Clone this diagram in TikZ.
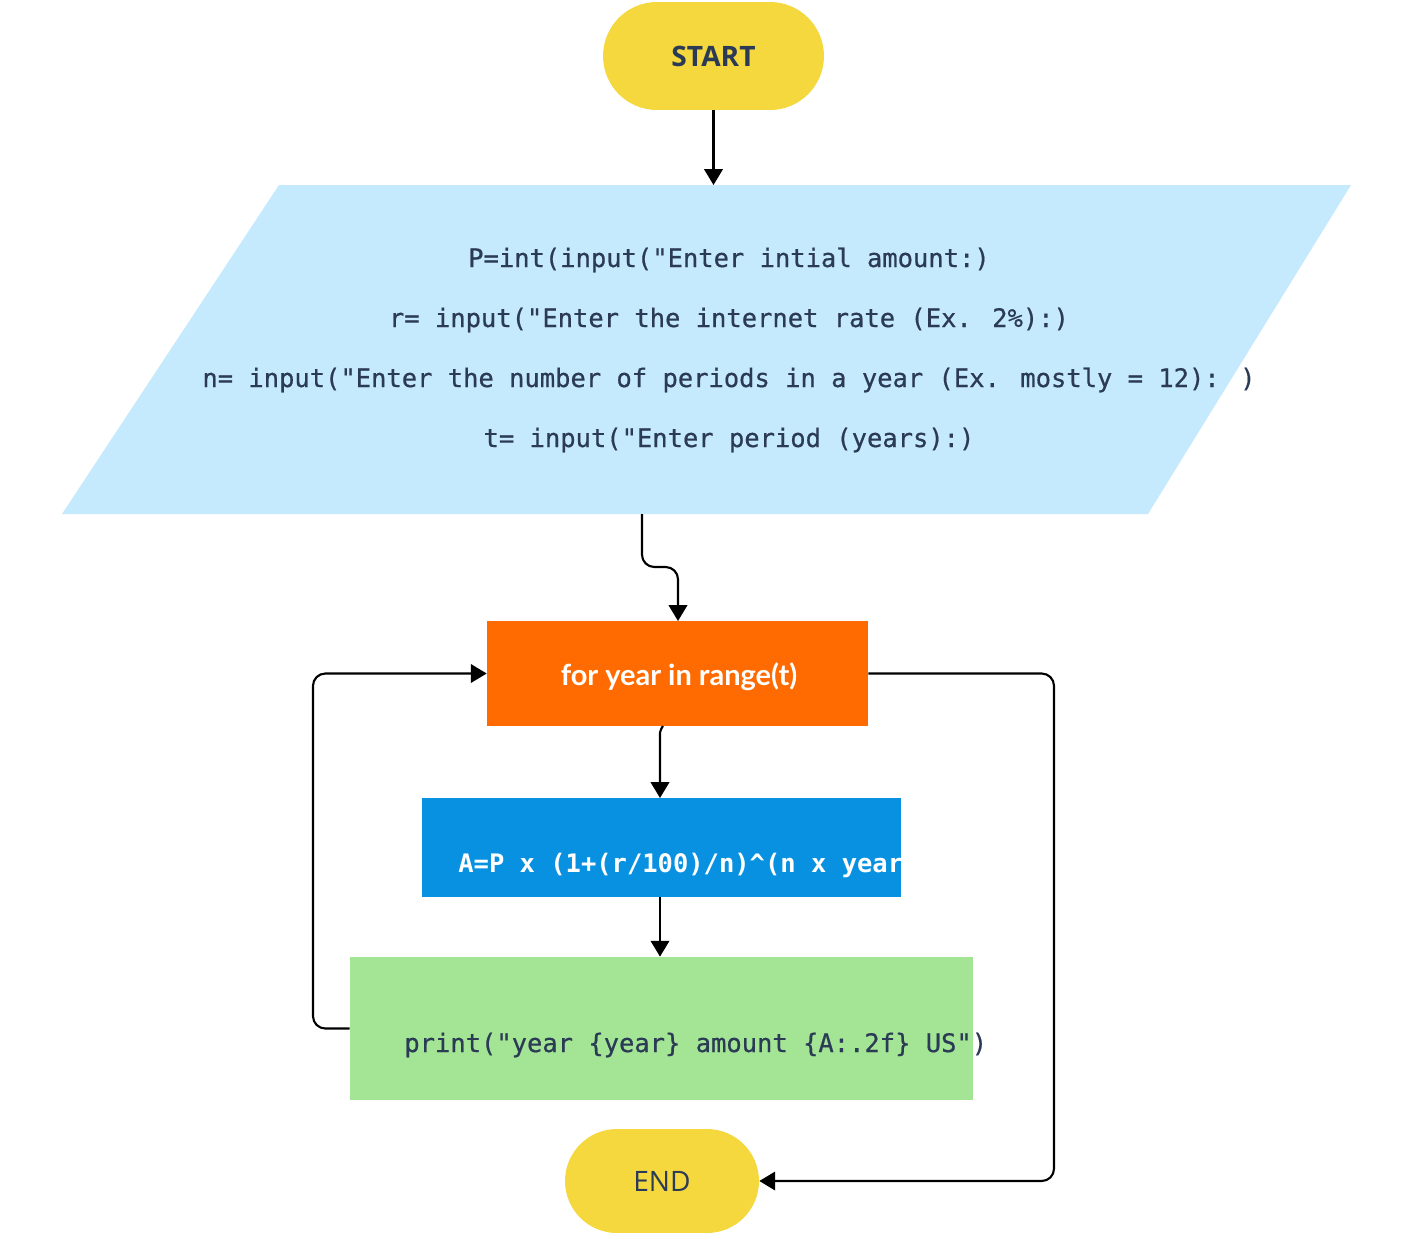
\documentclass[tikz,border=0pt]{standalone}
\usepackage{fontspec}
\usetikzlibrary{arrows.meta,shapes.misc,calc}
\newfontfamily\monof[FakeBold=0.6]{DejaVu Sans Mono}
\newfontfamily\monob{DejaVu Sans Mono Bold}
\newfontfamily\sansf{Open Sans}
\newfontfamily\forf{Lato}
\definecolor{termyellow}{HTML}{F4D83D}
\definecolor{inblue}{HTML}{C5E9FD}
\definecolor{looporange}{HTML}{FF6B00}
\definecolor{calcblue}{HTML}{0891E1}
\definecolor{printgreen}{HTML}{A3E595}
\definecolor{navy}{HTML}{2B3A55}
\tikzset{
  term/.style={rounded rectangle, fill=termyellow, text=navy, inner sep=0pt},
  procbox/.style={rectangle, inner sep=0pt},
  codetext/.style={inner sep=0pt, text=navy, font=\monof\fontsize{14.5}{17}\selectfont},
  conn/.style={line width=1.2pt, -{Triangle[length=9pt,width=10.5pt]}, rounded corners=7pt}
}
\begin{document}
\begin{tikzpicture}[x=0.02cm,y=-0.02cm]
\useasboundingbox (0,0) rectangle (1428,1232);

% START
\node[term, minimum width=4.42cm, minimum height=2.16cm,
      font=\sansf\bfseries\fontsize{16}{19}\selectfont] (start) at (713.5,56) {START};

% input parallelogram
\fill[inblue] (279,185) -- (1351,185) -- (1148,514) -- (62,514) -- cycle;
\coordinate (intop) at (713.5,185);
\coordinate (inout) at (642,514);
\node[codetext, anchor=base] (in1) at (729,267) {P=int(input("Enter intial amount:)};
\node[codetext, anchor=base] (in2) at (729,327) {r= input("Enter the internet rate (Ex. 2\%):)};
\node[codetext, anchor=base] (in3) at (729,387) {n= input("Enter the number of periods in a year (Ex. mostly = 12): )};
\node[codetext, anchor=base] (in4) at (729,447) {t= input("Enter period (years):)};

% loop box
\node[procbox, fill=looporange, minimum width=7.62cm, minimum height=2.1cm] (for) at (677.5,673.5) {};
\node[inner sep=0pt, text=white, font=\forf\bfseries\fontsize{16.5}{19}\selectfont, anchor=base] (fortext) at (679,685) {for year in range(t)};

% calc box
\node[procbox, fill=calcblue, minimum width=9.58cm, minimum height=1.98cm] (calc) at (661.5,847.5) {};
\begin{scope}
  \clip (422,798) rectangle (901,897);
  \node[codetext, text=white, font=\monob\fontsize{14.5}{17}\selectfont, anchor=base west] (calctext) at (458,872) {A=P x (1+(r/100)/n)\textasciicircum(n x year)};
\end{scope}

% print box
\node[procbox, fill=printgreen, minimum width=12.46cm, minimum height=2.86cm] (print) at (661.5,1028.5) {};
\node[codetext, anchor=base west] (printtext) at (404,1052) {print("year \{year\} amount \{A:.2f\} US")};

% END
\node[term, minimum width=3.88cm, minimum height=2.08cm,
      font=\sansf\fontsize{16}{19}\selectfont] (end) at (662,1181) {END};

% connectors
\draw[conn] (start.south) -- (intop);
\draw[conn] (inout) -- (642,567) -- (678,567) -- (678,621);
\coordinate (forout) at (663,726);
\coordinate (calcin) at (660,798);
\draw[conn] (forout) .. controls (661,728) and (660,733) .. (660,745) -- (calcin);
\draw[conn] (calc.south -| calcin) -- (print.north -| calcin);
\draw[conn] (print.west) -- (313,1028.5) -- (313,673.5) -- (for.west);
\draw[conn] (for.east) -- (1054,673.5) -- (1054,1181) -- (end.east);
\end{tikzpicture}
\end{document}
